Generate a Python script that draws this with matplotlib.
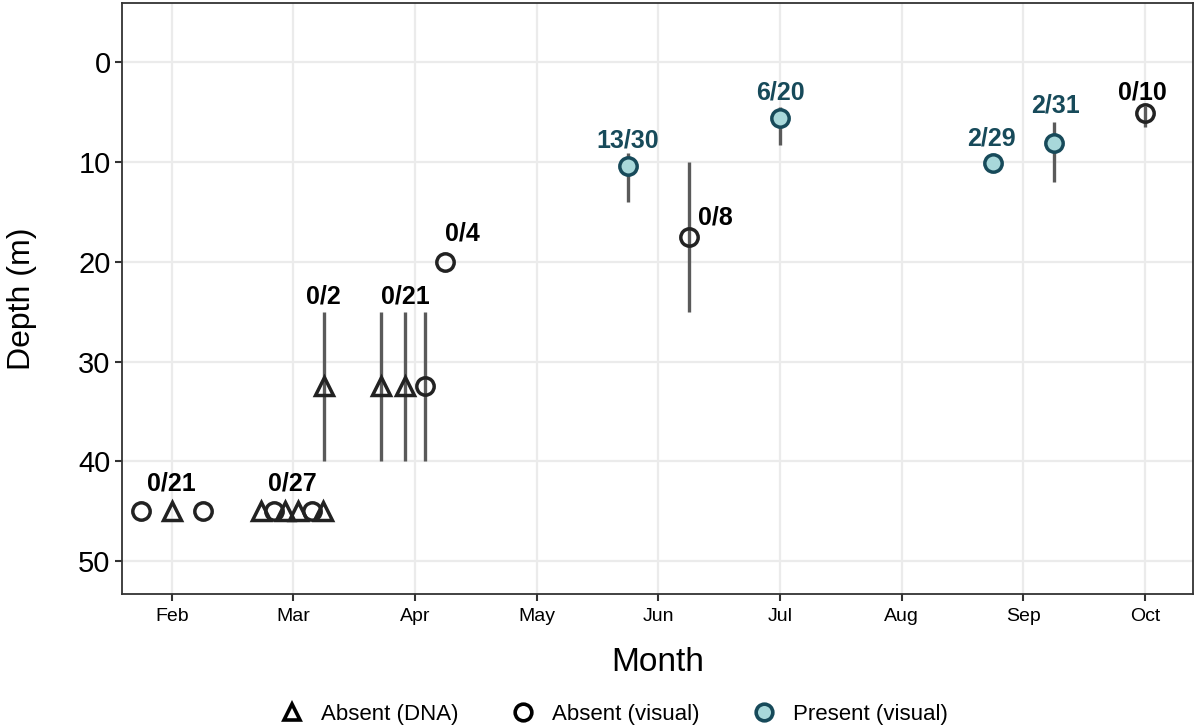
"""Depth of survey records by month: absent (DNA / visual) vs present (visual)."""
import matplotlib
matplotlib.use("Agg")
import matplotlib.pyplot as plt
from matplotlib.lines import Line2D
import numpy as np

plt.rcParams["font.family"] = ["Liberation Sans", "DejaVu Sans"]

# month as a continuous number (2 = Feb 1, 3 = Mar 1, ...)
DNA_MONTH = [2.00, 2.73, 2.93, 3.04, 3.24, 3.25, 3.72, 3.92]
DNA_DEPTH = [45, 45, 45, 45, 45, 32.5, 32.5, 32.5]

VIS_ABS_MONTH = [1.75, 2.26, 2.84, 3.15, 4.08, 4.25, 6.25, 10.0]
VIS_ABS_DEPTH = [45, 45, 45, 45, 32.5, 20, 17.5, 5.1]

VIS_PRES_MONTH = [5.75, 7.0, 8.75, 9.25]
VIS_PRES_DEPTH = [10.4, 5.6, 10.1, 8.1]

# depth ranges (vertical bars)
RANGE_MONTH = [3.25, 3.72, 3.92, 4.08, 5.75, 6.25, 7.0, 9.25, 10.0]
RANGE_TOP = [25, 25, 25, 25, 9.1, 10, 4.5, 6.0, 4.4]
RANGE_BOTTOM = [40, 40, 40, 40, 14.0, 25, 8.3, 12.0, 6.5]

# detections / samples labels
LABELS = ["0/21", "0/27", "0/2", "0/21", "0/4", "0/8", "0/10",
          "13/30", "6/20", "2/29", "2/31"]
LABEL_MONTH = [2.0, 2.99, 3.25, 3.92, 4.39, 6.47, 9.98, 5.75, 7.0, 8.74, 9.26]
LABEL_DEPTH = [42.2, 42.2, 23.5, 23.5, 17.2, 15.6, 3.0, 7.8, 3.0, 7.6, 4.3]
LABEL_PRESENT = [False] * 7 + [True] * 4

MONTH_TICKS = [2, 3, 4, 5, 6, 7, 8, 9, 10]
MONTH_NAMES = ["Feb", "Mar", "Apr", "May", "Jun", "Jul", "Aug", "Sep", "Oct"]

TEAL = "#174a5a"
FILL = "#a8d8da"
DARK = "#222222"

fig = plt.figure(figsize=(12, 7.26), dpi=100)
ax = fig.add_axes([0.1014, 0.1818, 0.8926, 0.8141])

ax.vlines(RANGE_MONTH, RANGE_TOP, RANGE_BOTTOM, color="#5a5a5a", lw=2.4, zorder=2)

ax.plot(DNA_MONTH, DNA_DEPTH, ls="none", marker="^", ms=13.5, mfc="none",
        mec=DARK, mew=2.5, zorder=3)
ax.plot(VIS_ABS_MONTH, VIS_ABS_DEPTH, ls="none", marker="o", ms=12.5, mfc="none",
        mec=DARK, mew=2.5, zorder=3)
ax.plot(VIS_PRES_MONTH, VIS_PRES_DEPTH, ls="none", marker="o", ms=12.5, mfc=FILL,
        mec=TEAL, mew=2.5, zorder=3)

for txt, mx, dp, pres in zip(LABELS, LABEL_MONTH, LABEL_DEPTH, LABEL_PRESENT):
    ax.text(mx, dp, txt, ha="center", va="center", fontsize=18, fontweight="bold",
            color=TEAL if pres else "black", zorder=4)

ax.set_xlim(1.589, 10.392)
ax.set_ylim(53.3, -5.94)
ax.set_xticks(MONTH_TICKS)
ax.set_xticklabels(MONTH_NAMES)
ax.set_yticks(np.arange(0, 51, 10))
ax.tick_params(axis="x", labelsize=14, length=5, width=1.5, color="#333333", pad=5)
ax.tick_params(axis="y", labelsize=21, length=5, width=1.5, color="#333333", pad=3)
ax.grid(True, color="#ebebeb", lw=1.6)
ax.set_axisbelow(True)
for sp in ax.spines.values():
    sp.set_color("#333333")
    sp.set_linewidth(1.3)

ax.set_xlabel("Month", fontsize=24, labelpad=16)
ax.set_ylabel("Depth (m)", fontsize=23, labelpad=30)

handles = [
    Line2D([], [], ls="none", marker="^", ms=12, mfc="none", mec="black", mew=2.6),
    Line2D([], [], ls="none", marker="o", ms=12, mfc="none", mec="black", mew=2.6),
    Line2D([], [], ls="none", marker="o", ms=12, mfc=FILL, mec=TEAL, mew=2.6),
]
fig.legend(handles, ["Absent (DNA)", "Absent (visual)", "Present (visual)"],
           loc="lower center", bbox_to_anchor=(0.51, -0.026), ncol=3,
           frameon=False, fontsize=16, handletextpad=0.6, columnspacing=2.2,
           handlelength=1.4)

fig.savefig("out.png", dpi=100)
